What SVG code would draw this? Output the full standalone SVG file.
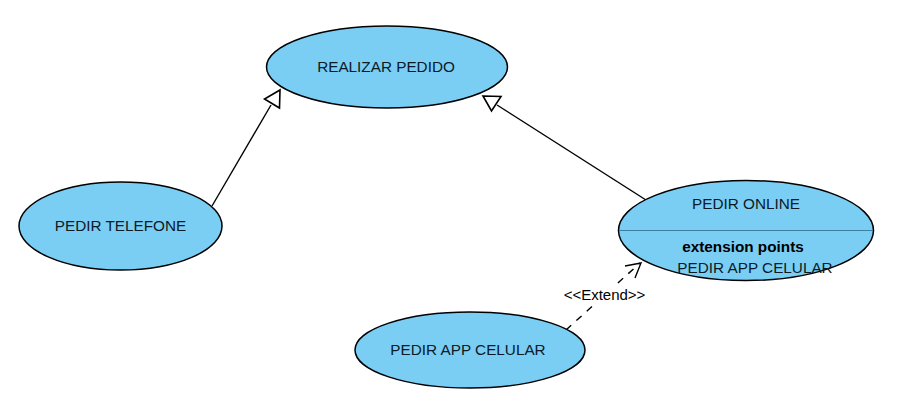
<svg xmlns="http://www.w3.org/2000/svg" width="899" height="414" viewBox="0 0 899 414">
<style>
.n{fill:#7acef4;stroke:#000;stroke-width:1.5}
.t{font-family:"Liberation Sans",Arial,sans-serif;font-size:15.300px;fill:#0c1a26;text-anchor:middle}
.b{font-weight:bold;font-size:15.300px;fill:#000}
.c{fill:none;stroke:#000;stroke-width:1.4}
.h{fill:#fff;stroke:#000;stroke-width:1.6}
.d{stroke-dasharray:7 7}
</style>
<rect width="899" height="414" fill="#fff"/>
<g id="connectors">
<line class="c" x1="212" y1="206" x2="271" y2="105"/>
<polygon class="h" points="280,90 279.500,108 264.500,99"/>
<line class="c" x1="646" y1="200" x2="497" y2="105"/>
<polygon class="h" points="483,96 501,96.500 491.500,111"/>
<line class="c d" x1="566" y1="330" x2="640" y2="263"/>
<path class="c" d="M625,266 L641,263 L635,278"/>
<rect x="562" y="287" width="85" height="18" fill="#fff"/>
<text class="t" x="604.500" y="300" style="font-size:15px;fill:#000">&lt;&lt;Extend&gt;&gt;</text>
</g>
<g id="realizar-pedido">
<ellipse class="n" cx="387" cy="67" rx="120.500" ry="41"/>
<text class="t" x="386" y="72">REALIZAR PEDIDO</text>
</g>
<g id="pedir-telefone">
<ellipse class="n" cx="120.500" cy="226" rx="101.500" ry="44"/>
<text class="t" x="120.500" y="231">PEDIR TELEFONE</text>
</g>
<g id="pedir-online">
<ellipse class="n" cx="746" cy="230.500" rx="127.500" ry="50"/>
<line x1="619" y1="230.500" x2="873" y2="230.500" stroke="#3d7f9f" stroke-width="1"/>
<text class="t" x="746" y="209">PEDIR ONLINE</text>
<text class="t b" x="743" y="252">extension points</text>
<text class="t" x="755" y="273">PEDIR APP CELULAR</text>
</g>
<g id="pedir-app-celular">
<ellipse class="n" cx="470" cy="350" rx="115" ry="38"/>
<text class="t" x="468" y="355">PEDIR APP CELULAR</text>
</g>
</svg>
